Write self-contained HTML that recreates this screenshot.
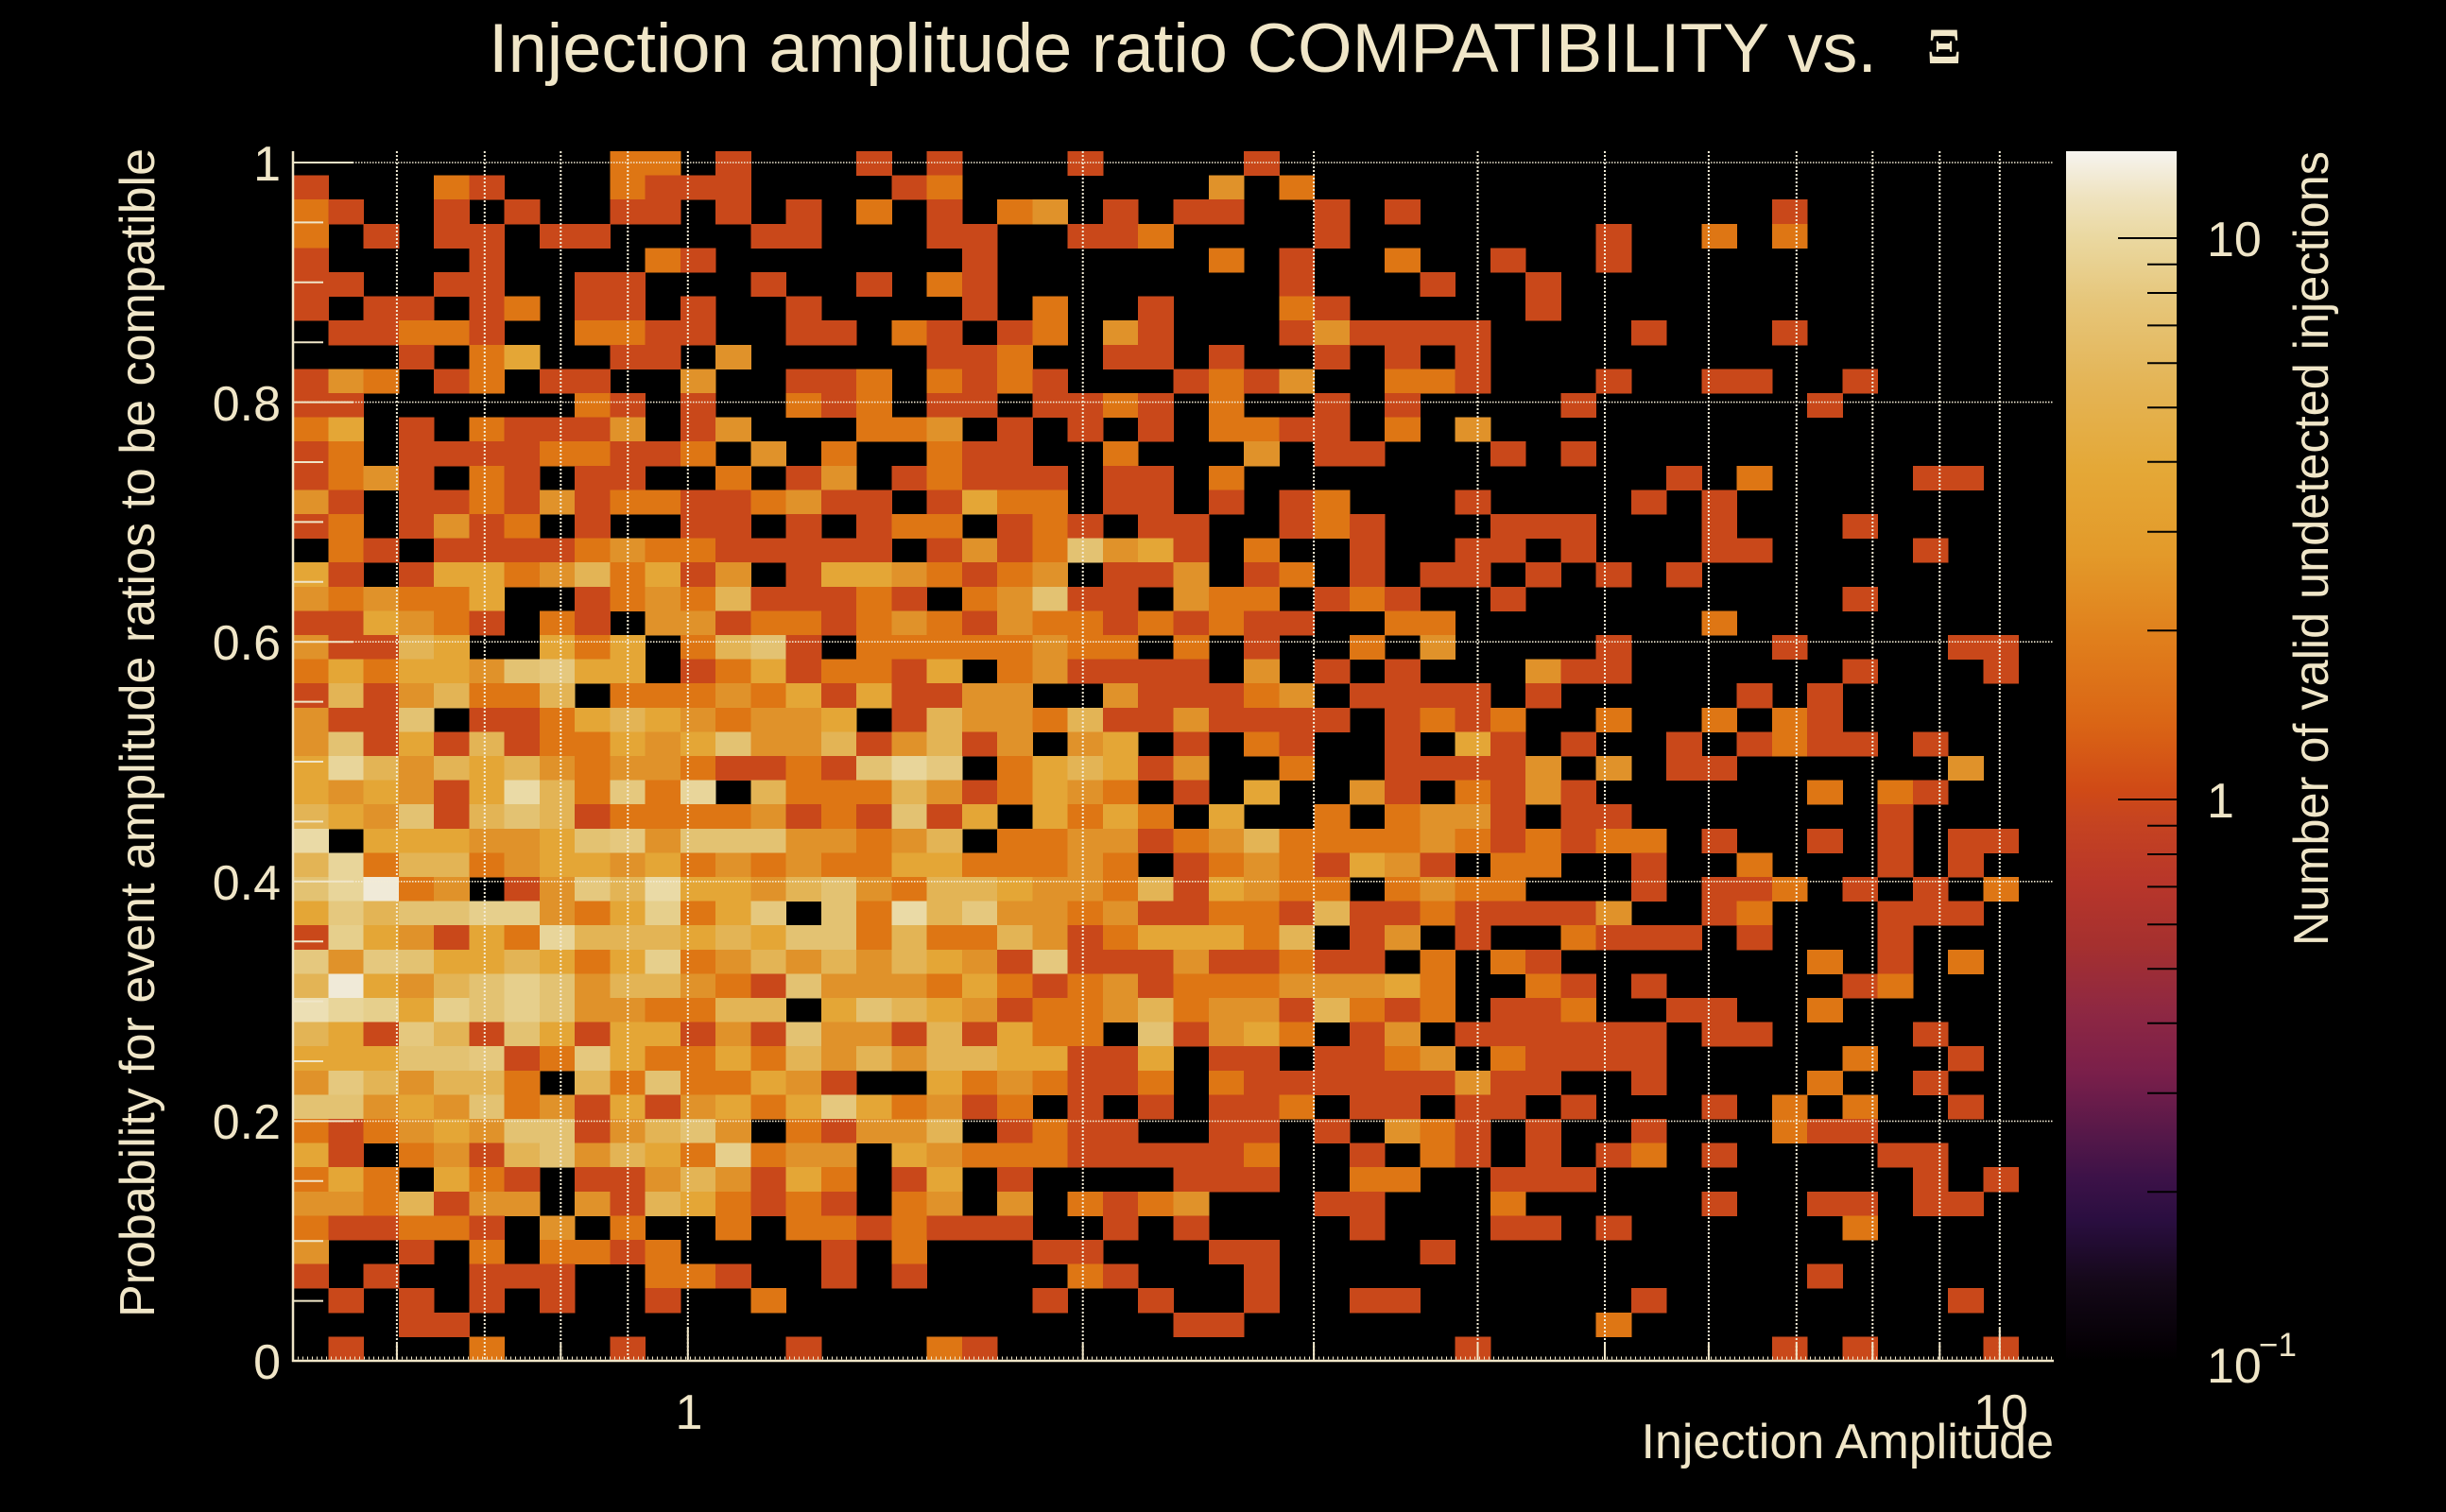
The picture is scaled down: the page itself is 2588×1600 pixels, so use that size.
<!DOCTYPE html>
<html>
<head>
<meta charset="utf-8">
<style>
  html,body{margin:0;padding:0;background:#000;}
  svg{display:block;}
  text{font-family:"Liberation Sans",Arial,Helvetica,sans-serif;fill:#f0e6c8;}
</style>
</head>
<body>
<svg id="s" xmlns="http://www.w3.org/2000/svg" width="2588" height="1600" viewBox="0 0 2588 1600">
  <defs>
    <linearGradient id="cb" x1="0" y1="0" x2="0" y2="1">
      <stop offset="0" stop-color="#f6f4f0"/>
      <stop offset="0.037" stop-color="#efe3c0"/>
      <stop offset="0.072" stop-color="#ead8a0"/>
      <stop offset="0.124" stop-color="#e6c67a"/>
      <stop offset="0.194" stop-color="#e4b455"/>
      <stop offset="0.263" stop-color="#e4a837"/>
      <stop offset="0.333" stop-color="#e39a2a"/>
      <stop offset="0.403" stop-color="#e07f1c"/>
      <stop offset="0.473" stop-color="#da6515"/>
      <stop offset="0.528" stop-color="#d04a16"/>
      <stop offset="0.552" stop-color="#c64420"/>
      <stop offset="0.605" stop-color="#b8362a"/>
      <stop offset="0.657" stop-color="#a5302f"/>
      <stop offset="0.709" stop-color="#8f2842"/>
      <stop offset="0.762" stop-color="#7a1f4a"/>
      <stop offset="0.814" stop-color="#551849"/>
      <stop offset="0.848" stop-color="#3d1248"/>
      <stop offset="0.884" stop-color="#2a0e40"/>
      <stop offset="0.936" stop-color="#140818"/>
      <stop offset="0.988" stop-color="#050005"/>
      <stop offset="1" stop-color="#000000"/>
    </linearGradient>
  </defs>
  <rect x="0" y="0" width="2588" height="1600" fill="#000"/>

  <g id="cells" shape-rendering="crispEdges"></g>
  <g id="grid" fill="none"></g>
  <g id="axes"></g>

  <!-- colorbar -->
  <rect x="2186" y="160" width="117" height="1280" fill="url(#cb)"/>
  <g id="cbt" stroke="#000" stroke-width="2"></g>

  <!-- title -->
  <text x="517" y="76" font-size="73" textLength="1469" lengthAdjust="spacingAndGlyphs">Injection amplitude ratio COMPATIBILITY vs.</text>
  <text x="2039" y="67" font-size="54" font-weight="bold" textLength="36" lengthAdjust="spacingAndGlyphs" style="font-family:'Liberation Serif','DejaVu Serif',serif">Ξ</text>

  <!-- y tick labels -->
  <g font-size="52" text-anchor="end">
    <text x="297" y="191">1</text>
    <text x="297" y="445">0.8</text>
    <text x="297" y="698">0.6</text>
    <text x="297" y="952">0.4</text>
    <text x="297" y="1205">0.2</text>
    <text x="297" y="1459">0</text>
  </g>
  <!-- x tick labels -->
  <g font-size="52" text-anchor="middle">
    <text x="729" y="1512">1</text>
    <text x="2117" y="1512">10</text>
  </g>
  <!-- axis titles -->
  <text x="2173" y="1543" font-size="52" text-anchor="end">Injection Amplitude</text>
  <text transform="translate(163,157) rotate(-90)" x="0" y="0" font-size="52" text-anchor="end" textLength="1237" lengthAdjust="spacingAndGlyphs">Probability for event amplitude ratios to be compatible</text>

  <!-- colorbar labels -->
  <g font-size="52">
    <text x="2335" y="271">10</text>
    <text x="2335" y="865">1</text>
    <text x="2335" y="1463">10</text>
    <text x="2390" y="1435" font-size="35">−1</text>
  </g>
  <text transform="translate(2463,160) rotate(-90)" x="0" y="0" font-size="52" text-anchor="end" textLength="841" lengthAdjust="spacingAndGlyphs">Number of valid undetected injections</text>
</svg>
<script>
(function(){
  var ns = "http://www.w3.org/2000/svg";
  var rows = [
"00000000022010001010001000010000000000000000000000",
"10002100021110000120000000302000000000000000000000",
"21001010011010102010230101100101000000000010000000",
"20101101100001100011001120000100000001002020000000",
"10000100002100000001000000201002001001000000000000",
"11001100110001001021000000001000100100000000000000",
"10110120110100100001020010002100000100000000000000",
"01122100221100110210120310001311110000100010000000",
"00010240011030000011200110100101010000000000000000",
"13201201100300112021210001213002210001001100100000",
"11000000210100212011011210200101000010000001000000",
"24010211130130002230101010221102030000000000000000",
"12011112211203020021100200030110001010000000000000",
"12310210110020130121110110200000000000010200001100",
"31011213122112311014220110101200010000101000000000",
"12013120100110101220121011001210001110001000100000",
"02101111232211111013126341020010011010001100001000",
"41014423524130144321230113012010110101010000000000",
"32322400123251112102361103220121001000000000100000",
"11432102103312212321322121211002200000002000000000",
"31154004240256102222232202010020300001000010000110",
"24244367440124122140231111030101000311000000100010",
"15135225022232414113300311123011110100000101000000",
"31160112454323340153325113111101212002002021000000",
"36141512243463351351303401021001041010010121101000",
"49535453233211216970245413002001111303011000000300",
"434314a5272905222531243201040031021310000002021000",
"54361565122223121614042420400202331011000000010000",
"a0444334673666332350223312352222321212201001010110",
"59255234434232322442223201232143102200100200010100",
"69d2301375a443563255433251432202322000101120101020",
"47566883248247062a57332311221511211113001200011100",
"18431429555454662522531244425013010021110100010000",
"73764454248235353543171113112110202100000002010200",
"5d435686355321633324212312223334200210100000120000",
"b9848686332255046543122352331521201120011002000000",
"54175164144131633151422061342013011111101100001000",
"44466712742242535355441140110112302111100000200100",
"37535520526224310042321120211111131100100002001000",
"66343623141342474231201010112011011010001020200100",
"21234366135630213350121100110103210100100021100000",
"41023156354282330432221111120010210101201000011000",
"24204210113531420140100001110022001110000000001010",
"33251330315421210230302123000110002000001001101100",
"21122103020020221211100101000010001101000000200000",
"30010202212000010200011000110000100000000000000000",
"10100111002210010100002100010000000000000001000000",
"01010101001002000000010010010011000000100000000100",
"00011000000000000000000001100000000002000000000000",
"01000200010000100021000000000000010000000010100010"
  ];
  var pal = [null,'#c9481a','#de7614','#e0922a','#e4a636','#e3b455','#e3c272','#e5c87e','#e6cf8c','#e8d59a','#eadaa6','#ecdfb4','#efe5c4','#f0ead8','#f3efe6'];
  var X0 = 310, Y0 = 160, W = 1863/50, H = 25.6;
  var g = document.getElementById('cells');
  function el(tag, attrs, parent){
    var e = document.createElementNS(ns, tag);
    for (var k in attrs) e.setAttribute(k, attrs[k]);
    parent.appendChild(e);
    return e;
  }
  for (var r = 0; r < rows.length; r++){
    var row = rows[r];
    for (var c = 0; c < row.length && c < 50; c++){
      var ch = row.charAt(c);
      if (ch === '0') continue;
      var v = parseInt(ch, 16);
      if (!(v > 0)) continue;
      if (v > 14) v = 14;
      el('rect', {x:(X0 + c*W).toFixed(2), y:(Y0 + r*H).toFixed(2),
                  width:(W+0.5).toFixed(2), height:(H+0.5).toFixed(2), fill:pal[v]}, g);
    }
  }
  // grid
  var grid = document.getElementById('grid');
  var gc = '#f3ecd6';
  function xof(v){ return 310 + 1388*Math.log10(v/0.5); }
  var gx = [0.6,0.7,0.8,0.9,1,2,3,4,5,6,7,8,9,10];
  gx.forEach(function(v){
    var x = xof(v).toFixed(1);
    el('line', {x1:x, y1:160, x2:x, y2:1440, stroke:gc, 'stroke-width':2, 'stroke-dasharray':'2 2'}, grid);
  });
  [1,0.8,0.6,0.4,0.2].forEach(function(v){
    var y = (1440 - 1268*v).toFixed(1);
    el('line', {x1:310, y1:y, x2:2173, y2:y, stroke:gc, 'stroke-width':1.6, 'stroke-dasharray':'1.5 1.5'}, grid);
  });
  // axes
  var ax = document.getElementById('axes');
  var ac = '#f0e6c8';
  el('line', {x1:310, y1:160, x2:310, y2:1441, stroke:ac, 'stroke-width':2.5}, ax);
  el('line', {x1:309, y1:1440, x2:2173, y2:1440, stroke:ac, 'stroke-width':2.5}, ax);
  // dense tiny x ticks
  el('line', {x1:310, y1:1437, x2:2173, y2:1437, stroke:ac, 'stroke-width':3, 'stroke-dasharray':'1 4'}, ax);
  // y ticks
  for (var k = 1; k <= 20; k++){
    var y = (1440 - 63.4*k).toFixed(1);
    var len = (k % 4 === 0) ? 64 : 32;
    el('line', {x1:310, y1:y, x2:310+len, y2:y, stroke:ac, 'stroke-width':2}, ax);
  }
  // x ticks
  [0.6,0.8,2,3,4,5,6,7,8,9].forEach(function(v){
    var x = xof(v).toFixed(1);
    el('line', {x1:x, y1:1440, x2:x, y2:1422, stroke:ac, 'stroke-width':2}, ax);
  });
  [1,10].forEach(function(v){
    var x = xof(v).toFixed(1);
    el('line', {x1:x, y1:1440, x2:x, y2:1405, stroke:ac, 'stroke-width':2}, ax);
  });
  // colorbar ticks
  var cbt = document.getElementById('cbt');
  [252, 846].forEach(function(y){
    el('line', {x1:2241, y1:y, x2:2303, y2:y}, cbt);
  });
  for (var m = 2; m <= 9; m++){
    var y1 = (846 - 593.5*Math.log10(m)).toFixed(1);
    var y2 = (1440 - 593.5*Math.log10(m)).toFixed(1);
    el('line', {x1:2272, y1:y1, x2:2303, y2:y1}, cbt);
    el('line', {x1:2272, y1:y2, x2:2303, y2:y2}, cbt);
  }
})();
</script>
</body>
</html>
